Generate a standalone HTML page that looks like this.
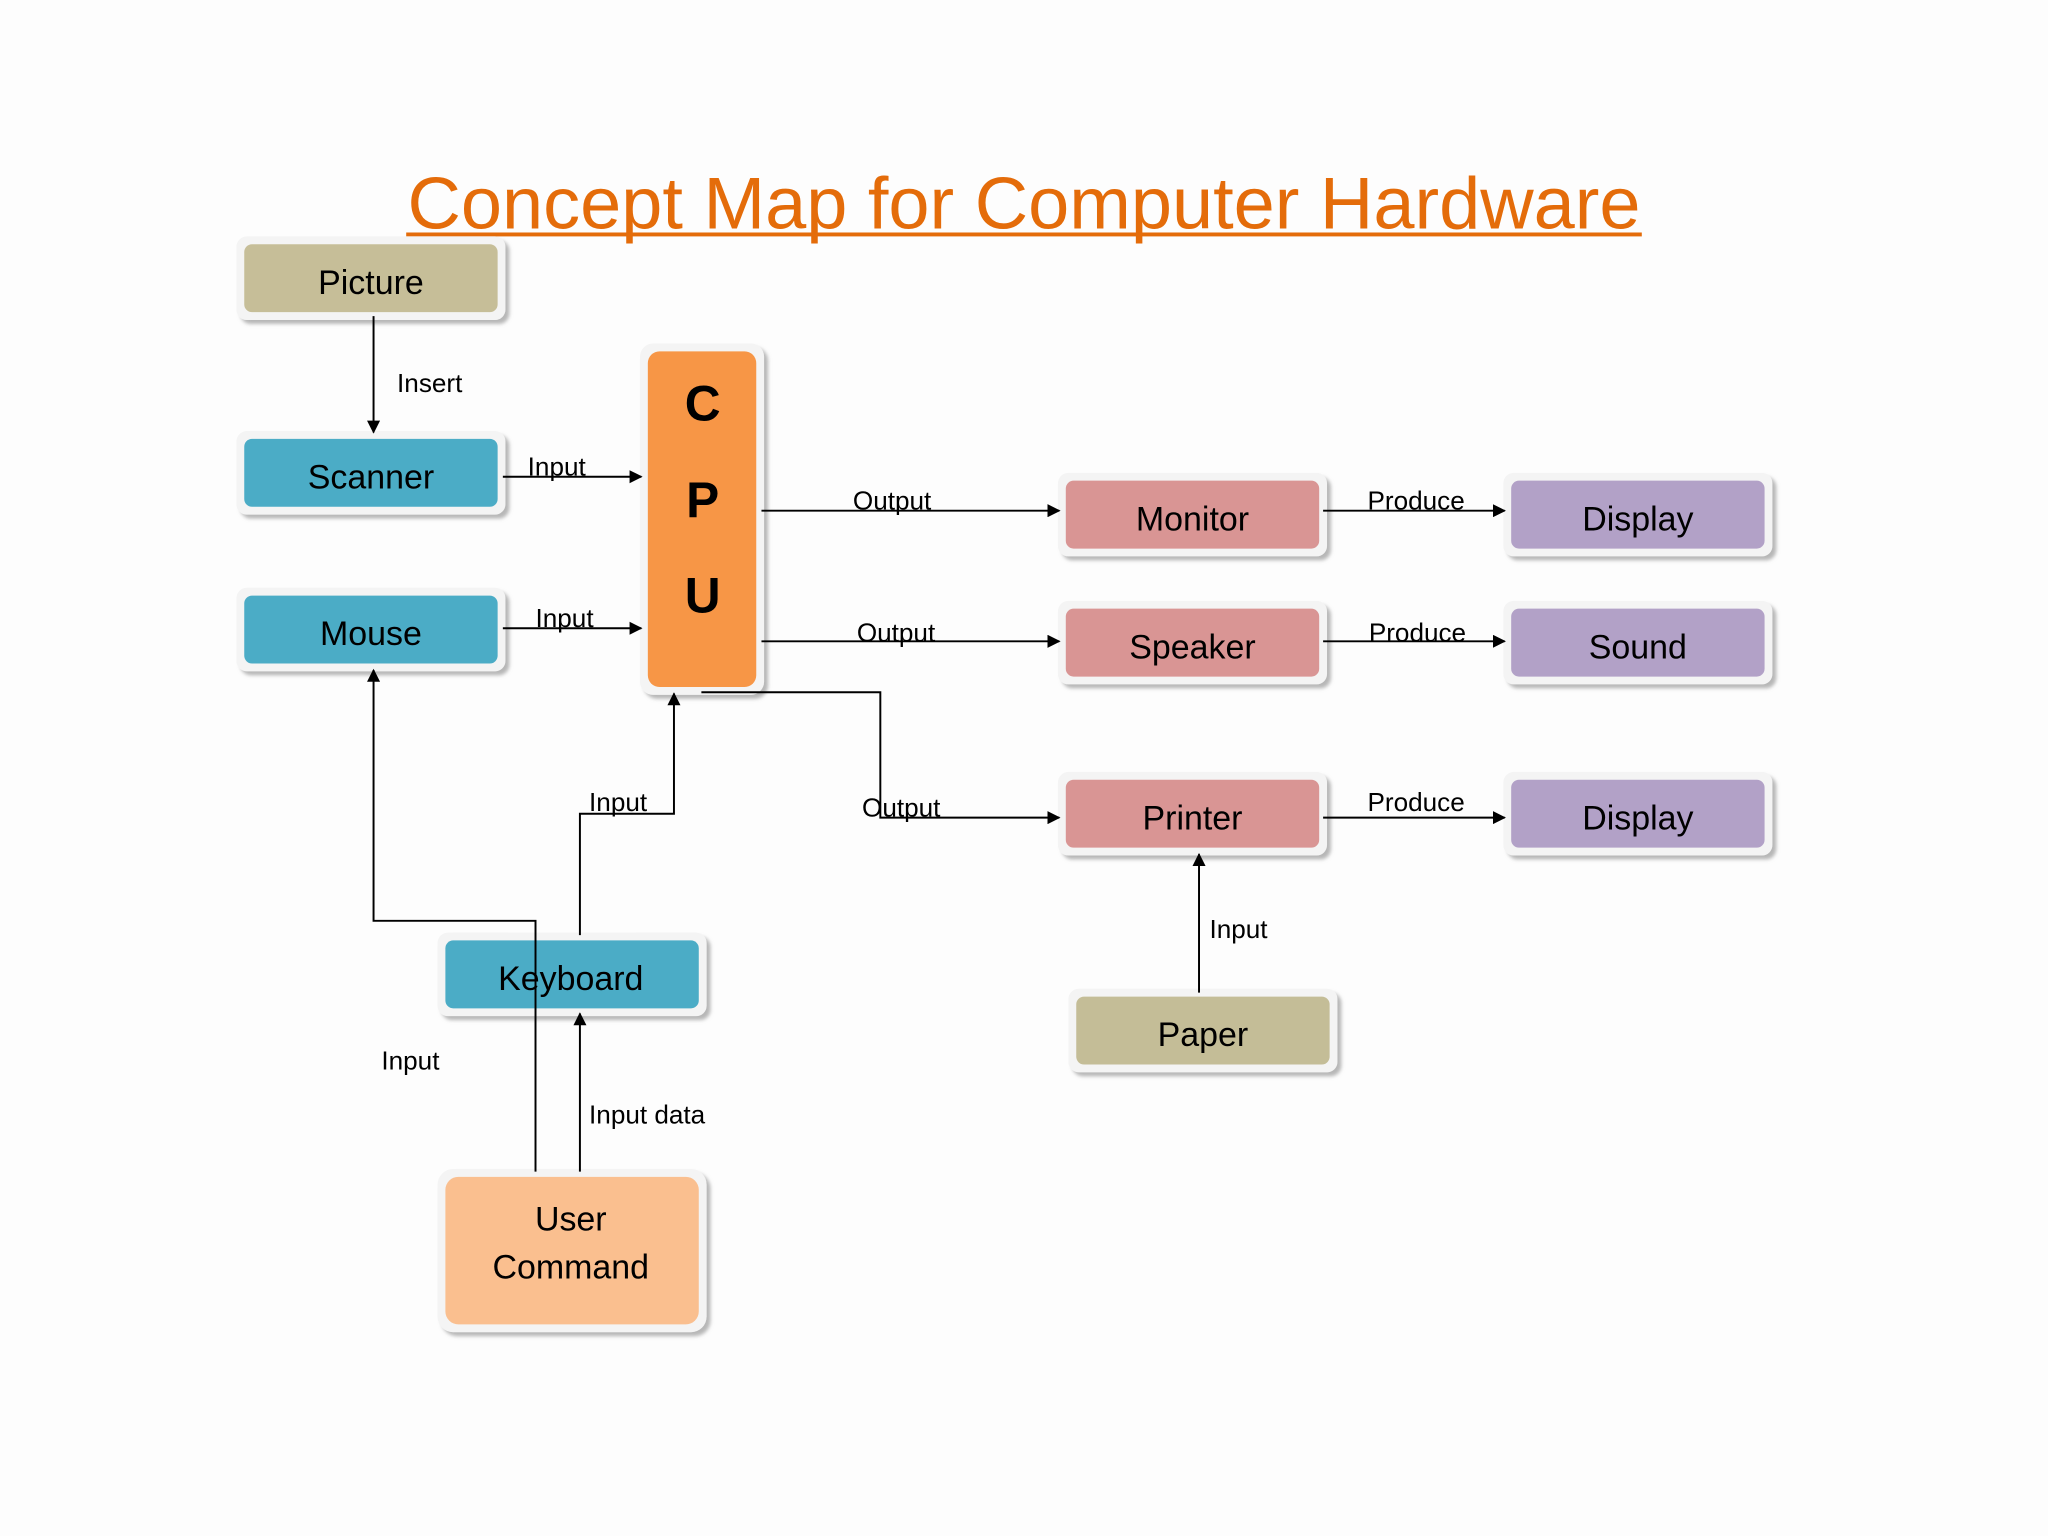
<!DOCTYPE html>
<html><head><meta charset="utf-8"><style>html,body{margin:0;padding:0;background:#fdfdfd}svg{display:block}</style></head>
<body>
<svg width="2048" height="1536" viewBox="0 0 1568 1176" xmlns="http://www.w3.org/2000/svg" font-family="Liberation Sans, sans-serif">
<defs>
<marker id="a" markerWidth="10" markerHeight="10" refX="9" refY="5" orient="auto" markerUnits="userSpaceOnUse"><path d="M0,0 L10,5 L0,10 z" fill="#000"/></marker>
<filter id="s" x="-10%" y="-10%" width="130%" height="140%"><feDropShadow dx="3" dy="3" stdDeviation="1.5" flood-color="#999" flood-opacity="0.7"/></filter>
</defs>
<rect width="1568" height="1176" fill="#fdfdfd"/>
<text x="784" y="175" text-anchor="middle" font-size="56" fill="#E46C0A" textLength="944" lengthAdjust="spacingAndGlyphs">Concept Map for Computer Hardware</text>
<rect x="311" y="178" width="946" height="3" fill="#E46C0A"/>

<g filter="url(#s)" fill="#f4f4f4">
<rect x="181" y="181" width="206" height="64" rx="8"/>
<rect x="181" y="330" width="206" height="64" rx="8"/>
<rect x="181" y="450" width="206" height="64" rx="8"/>
<rect x="490" y="263" width="95" height="269" rx="10"/>
<rect x="810" y="362" width="206" height="64" rx="8"/>
<rect x="1151" y="362" width="206" height="64" rx="8"/>
<rect x="810" y="460" width="206" height="64" rx="8"/>
<rect x="1151" y="460" width="206" height="64" rx="8"/>
<rect x="810" y="591" width="206" height="64" rx="8"/>
<rect x="1151" y="591" width="206" height="64" rx="8"/>
<rect x="818" y="757" width="206" height="64" rx="8"/>
<rect x="335" y="714" width="206" height="64" rx="8"/>
<rect x="335" y="895" width="206" height="125" rx="12"/>
</g>
<rect x="187" y="187" width="194" height="52" rx="6" fill="#C6BE98"/>
<rect x="187" y="336" width="194" height="52" rx="6" fill="#4BACC6"/>
<rect x="187" y="456" width="194" height="52" rx="6" fill="#4BACC6"/>
<rect x="496" y="269" width="83" height="257" rx="9" fill="#F79646"/>
<rect x="816" y="368" width="194" height="52" rx="6" fill="#D99594"/>
<rect x="1157" y="368" width="194" height="52" rx="6" fill="#B2A1C7"/>
<rect x="816" y="466" width="194" height="52" rx="6" fill="#D99594"/>
<rect x="1157" y="466" width="194" height="52" rx="6" fill="#B2A1C7"/>
<rect x="816" y="597" width="194" height="52" rx="6" fill="#D99594"/>
<rect x="1157" y="597" width="194" height="52" rx="6" fill="#B2A1C7"/>
<rect x="824" y="763" width="194" height="52" rx="6" fill="#C4BD97"/>
<rect x="341" y="720" width="194" height="52" rx="6" fill="#4BACC6"/>
<rect x="341" y="901" width="194" height="113" rx="10" fill="#FABF8F"/>

<g font-size="26" fill="#000" text-anchor="middle">
<text x="284" y="225">Picture</text>
<text x="284" y="374">Scanner</text>
<text x="284" y="494">Mouse</text>
<text x="913" y="406">Monitor</text>
<text x="1254" y="406">Display</text>
<text x="913" y="504">Speaker</text>
<text x="1254" y="504">Sound</text>
<text x="913" y="635">Printer</text>
<text x="1254" y="635">Display</text>
<text x="921" y="801">Paper</text>
<text x="437" y="758">Keyboard</text>
<text x="437" y="942">User</text>
<text x="437" y="979">Command</text>
</g>
<g font-size="38" font-weight="bold" fill="#000" text-anchor="middle">
<text x="538" y="322">C</text>
<text x="538" y="396">P</text>
<text x="538" y="469">U</text>
</g>

<g stroke="#000" stroke-width="1.5" fill="none">
<path d="M286,242 V331" marker-end="url(#a)"/>
<path d="M385,365 H491" marker-end="url(#a)"/>
<path d="M385,481 H491" marker-end="url(#a)"/>
<path d="M583,391 H811" marker-end="url(#a)"/>
<path d="M1013,391 H1152" marker-end="url(#a)"/>
<path d="M583,491 H811" marker-end="url(#a)"/>
<path d="M1013,491 H1152" marker-end="url(#a)"/>
<path d="M537,530 H674 V626 H811" marker-end="url(#a)"/>
<path d="M1013,626 H1152" marker-end="url(#a)"/>
<path d="M918,760 V654" marker-end="url(#a)"/>
<path d="M444,716 V623 H516 V531" marker-end="url(#a)"/>
<path d="M410,897 V705 H286 V513" marker-end="url(#a)"/>
<path d="M444,897 V776" marker-end="url(#a)"/>
</g>

<g font-size="20" fill="#000">
<text x="304" y="300">Insert</text>
<text x="404" y="364">Input</text>
<text x="410" y="480">Input</text>
<text x="653" y="390">Output</text>
<text x="1047" y="390">Produce</text>
<text x="656" y="491">Output</text>
<text x="1048" y="491">Produce</text>
<text x="660" y="625">Output</text>
<text x="1047" y="621">Produce</text>
<text x="926" y="718">Input</text>
<text x="451" y="621">Input</text>
<text x="292" y="819">Input</text>
<text x="451" y="860">Input data</text>
</g>
</svg>
</body></html>
